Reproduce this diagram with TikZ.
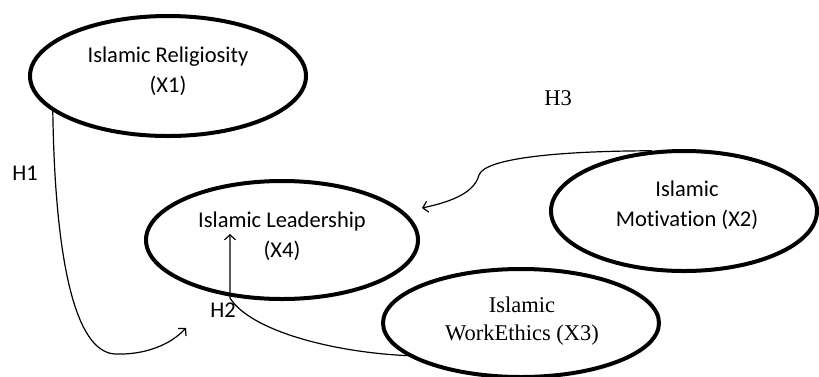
\documentclass[tikz,border=0pt]{standalone}
\usepackage{fontspec}
\setmainfont[Ligatures=NoCommon]{Carlito}
\newfontfamily\serifx{Liberation Serif}
\usetikzlibrary{shapes.geometric,arrows.meta}
\begin{document}
\begin{tikzpicture}[x=1pt,y=-1pt,
  var/.style={draw, ellipse, line width=4pt, inner sep=0pt},
  lbl/.style={align=center, font=\fontsize{22.5}{30}\selectfont, inner sep=0pt},
  hyp/.style={font=\fontsize{22.5}{27}\selectfont, inner sep=0pt},
  conn/.style={line width=1.2pt, -{Straight Barb[length=5pt,width=11pt]}}]
\useasboundingbox (0,0) rectangle (819,376);
% variables
\node[var, minimum width=276pt, minimum height=120pt] (x1) at (168,76) {};
\node[lbl] (x1t) at (168,71) {Islamic Religiosity\\(X1)};
\node[var, minimum width=272pt, minimum height=118pt] (x4) at (282,240) {};
\node[lbl] (x4t) at (282,236) {Islamic Leadership\\(X4)};
\node[var, minimum width=266pt, minimum height=120pt] (x2) at (684,211) {};
\node[lbl] (x2t) at (687,205.5) {Islamic\\Motivation (X2)};
\node[var, minimum width=276pt, minimum height=108pt] (x3) at (521,323) {};
\node[lbl, font=\serifx\fontsize{22.5}{28}\selectfont] (x3t) at (522,321) {Islamic\\WorkEthics (X3)};
% hypothesis labels
\node[hyp] (h1) at (25,173) {H1};
\node[hyp] (h2) at (223,310) {H2};
\node[hyp, font=\serifx\fontsize{22.5}{27}\selectfont] (h3) at (558,98) {H3};
% connector ends
\coordinate (h1end) at (186,328);
\coordinate (h2end) at (230,234);
\coordinate (h3end) at (422,208);
% connectors
\draw[conn] (x1.197) .. controls (55,260) and (75,352) .. (115,354)
  .. controls (145,355) and (170,345) .. (h1end);
\draw[conn] (x3.196.6) .. controls (330,352) and (250,330) .. (230,298) -- (h2end);
\draw[conn] (x2.118) .. controls (560,151) and (485,158) .. (479,175)
  .. controls (474,195) and (445,203) .. (h3end);
\end{tikzpicture}
\end{document}
